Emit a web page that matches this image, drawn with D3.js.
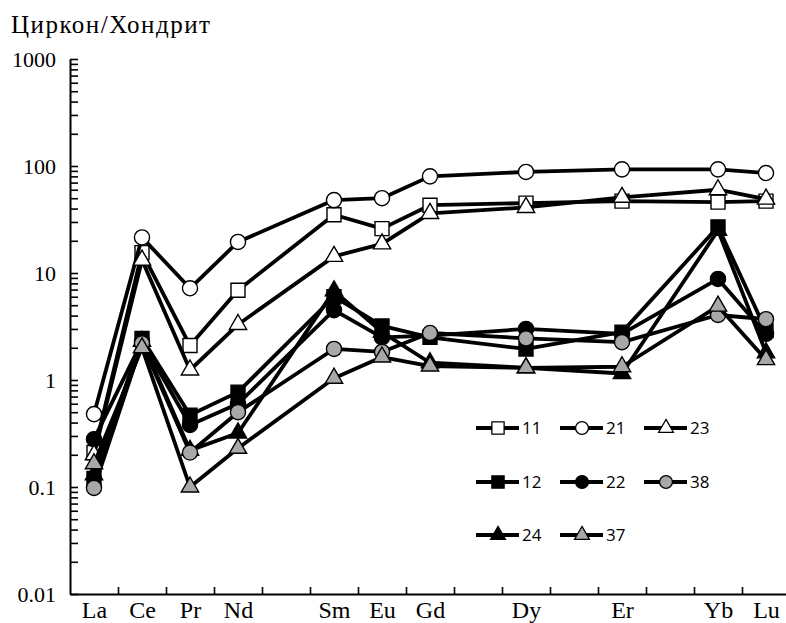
<!DOCTYPE html>
<html>
<head>
<meta charset="utf-8">
<script src="https://cdn.jsdelivr.net/npm/d3@7/dist/d3.min.js"></script>
<style>
  body { margin: 0; background: #fff; }
  svg { display: block; }
  .serif { font-family: "Liberation Serif", "Times New Roman", serif; }
  .title { font-size: 25px; letter-spacing: 1.5px; }
  .ylab { font-size: 22px; }
  .xlab { font-size: 24px; }
  .leg { font-family: "Open Sans", "Liberation Sans", sans-serif; font-size: 17px; }
</style>
</head>
<body>
<script>
'use strict';

// element slots along the x axis (atomic order, gaps for Pm, Tb, Ho, Tm)
const slots = ['La', 'Ce', 'Pr', 'Nd', 'Pm', 'Sm', 'Eu', 'Gd', 'Tb', 'Dy', 'Ho', 'Er', 'Tm', 'Yb', 'Lu'];
const elements = ['La', 'Ce', 'Pr', 'Nd', 'Sm', 'Eu', 'Gd', 'Dy', 'Er', 'Yb', 'Lu'];
const yTicks = [0.01, 0.1, 1, 10, 100, 1000];
const yTickLabels = ['0.01', '0.1', '1', '10', '100', '1000'];

// zircon / chondrite values, one per element above
const s11 = [0.21, 15.5, 2.1, 6.9, 35, 26, 43, 45, 47, 46, 47];
const s12 = [0.12, 2.45, 0.47, 0.77, 6.0, 3.2, 2.5, 1.95, 2.8, 27, 2.9];
const s21 = [0.48, 21.5, 7.2, 19.5, 48, 50, 80, 88, 93, 93, 86];
const s22 = [0.28, 2.3, 0.38, 0.6, 4.5, 2.5, 2.6, 3.0, 2.7, 8.8, 2.7];
const s23 = [0.2, 13.2, 1.24, 3.3, 14.3, 18.7, 36, 41, 51, 60, 49];
const s24 = [0.13, 2.3, 0.22, 0.32, 6.8, 2.8, 1.45, 1.3, 1.15, 25, 1.8];
const s38 = [0.098, 2.2, 0.21, 0.5, 1.95, 1.83, 2.75, 2.45, 2.26, 4.05, 3.7];
const s37 = [0.165, 2.0, 0.10, 0.23, 1.04, 1.64, 1.35, 1.3, 1.33, 4.9, 1.55];

const seriesNames = ['11', '12', '21', '22', '23', '24', '38', '37'];
const seriesValues = [s11, s12, s21, s22, s23, s24, s38, s37];
const seriesShape = ['square', 'square', 'circle', 'circle', 'triangle', 'triangle', 'circle', 'triangle'];
const seriesFill = ['#fff', '#000', '#fff', '#000', '#fff', '#000', '#a8a8a8', '#a8a8a8'];

// legend rows as in the picture
const legendRows = [['11', '21', '23'], ['12', '22', '38'], ['24', '37']];

const width = 786, height = 623;
const svg = d3.select('body').append('svg')
  .attr('width', width)
  .attr('height', height);

const x = d3.scaleLinear().domain([-0.5, slots.length - 0.5]).range([70, 790]);
const y = d3.scaleLog().domain([0.01, 1000]).range([594, 59]);

// title
svg.append('text')
  .attr('class', 'serif title')
  .attr('x', 11)
  .attr('y', 33)
  .text('Циркон/Хондрит');

// y axis with minor ticks pointing inside
let minor = [];
for (let e = -2; e < 3; e++) {
  for (let m = 1; m < 10; m++) minor.push(m * Math.pow(10, e));
}
minor.push(1000);

const yAxis = svg.append('g')
  .attr('transform', 'translate(70,0)')
  .call(d3.axisLeft(y)
    .tickValues(minor)
    .tickSizeInner(-8)
    .tickSizeOuter(0)
    .tickPadding(14)
    .tickFormat(d => {
      let i = yTicks.findIndex(t => Math.abs(t - d) / t < 1e-6);
      return i >= 0 ? yTickLabels[i] : '';
    }));
yAxis.attr('font-family', null).attr('font-size', null);
yAxis.select('.domain').attr('stroke-width', 2);
yAxis.selectAll('.tick line').attr('stroke-width', 1.6);
yAxis.selectAll('text')
  .attr('class', 'serif ylab')
  .attr('fill', '#000');

// x axis: ticks between elements, labels under elements
const xAxis = svg.append('g')
  .attr('transform', 'translate(0,594)')
  .call(d3.axisBottom(x)
    .tickValues(d3.range(0.5, slots.length - 1, 1))
    .tickSizeInner(-7)
    .tickSizeOuter(0)
    .tickFormat(''));
xAxis.select('.domain').attr('stroke-width', 2);
xAxis.selectAll('.tick line').attr('stroke-width', 1.6);

const xLabels = svg.append('g')
  .attr('transform', 'translate(0,594)')
  .call(d3.axisBottom(x)
    .tickValues(elements.map(el => slots.indexOf(el)))
    .tickSize(0)
    .tickPadding(7)
    .tickFormat(i => slots[i]));
xLabels.attr('font-family', null).attr('font-size', null);
xLabels.select('.domain').remove();
xLabels.selectAll('text')
  .attr('class', 'serif xlab')
  .attr('fill', '#000');

function symbolFor(shape, big) {
  if (shape === 'square') return d3.symbol(d3.symbolSquare, big ? 196 : 150)();
  if (shape === 'circle') return d3.symbol(d3.symbolCircle, big ? 180 : 130)();
  return d3.symbol(d3.symbolTriangle, big ? 130 : 95)();
}

const line = d3.line()
  .x(d => x(slots.indexOf(d.el)))
  .y(d => y(d.v));

seriesNames.forEach((name, k) => {
  let pts = elements.map((el, i) => ({ el: el, v: seriesValues[k][i] }));
  let g = svg.append('g').attr('class', 'series s' + name);
  g.append('path')
    .datum(pts)
    .attr('d', line)
    .attr('fill', 'none')
    .attr('stroke', '#000')
    .attr('stroke-width', 3.8)
    .attr('stroke-linejoin', 'round');
  g.selectAll('.pt')
    .data(pts)
    .enter()
    .append('path')
    .attr('transform', d => 'translate(' + x(slots.indexOf(d.el)) + ',' + y(d.v) + ')')
    .attr('d', symbolFor(seriesShape[k], true))
    .attr('fill', seriesFill[k])
    .attr('stroke', '#000')
    .attr('stroke-width', 1.4);
});

// legend
const legend = svg.append('g');
const colX = [476, 560, 644];
const rowY = [428, 482, 535];
legendRows.forEach((row, r) => {
  row.forEach((name, c) => {
    let k = seriesNames.indexOf(name);
    let lx = colX[c], ly = rowY[r];
    legend.append('line')
      .attr('x1', lx).attr('x2', lx + 43)
      .attr('y1', ly).attr('y2', ly)
      .attr('stroke', '#000')
      .attr('stroke-width', 4);
    legend.append('path')
      .attr('transform', 'translate(' + (lx + 22) + ',' + ly + ')')
      .attr('d', symbolFor(seriesShape[k], false))
      .attr('fill', seriesFill[k])
      .attr('stroke', '#000')
      .attr('stroke-width', 1.3);
    legend.append('text')
      .attr('class', 'leg')
      .attr('x', lx + 46)
      .attr('y', ly + 6)
      .text(name);
  });
});
</script>
</body>
</html>
